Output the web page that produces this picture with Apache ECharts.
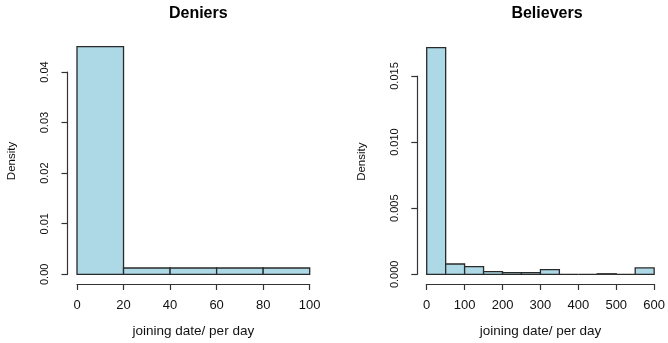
<!DOCTYPE html>
<html>
<head>
<meta charset="utf-8">
<script src="https://cdn.jsdelivr.net/npm/echarts@6/dist/echarts.min.js"></script>
<style>
  html, body { margin: 0; padding: 0; background: #fff; }
  #chart { width: 668px; height: 343px; }
</style>
</head>
<body>
<div id="chart"></div>
<script>
// Histogram bin edges and densities for the two groups
const panelTitles = ['Deniers', 'Believers'];
const xAxisTitle = 'joining date/ per day';
const yAxisTitle = 'Density';

const denierBreaks = [0, 20, 40, 60, 80, 100];
const denierDensity = [0.045, 0.00125, 0.00125, 0.00125, 0.00125];

const believerBreaks = [0, 50, 100, 150, 200, 250, 300, 350, 400, 450, 500, 550, 600];
const believerDensity = [0.01714, 0.00078, 0.00058, 0.0002, 0.00012, 0.00012, 0.00036, 0, 0, 0.00004, 0, 0.00048];

// x tick steps / y tick steps and decimals for each panel
const denierXTicks = { min: 0, max: 100, interval: 20 };
const denierYTicks = { min: 0, max: 0.04, interval: 0.01, digits: 2 };
const believerXTicks = { min: 0, max: 600, interval: 100 };
const believerYTicks = { min: 0, max: 0.015, interval: 0.005, digits: 3 };

function toBins(breaks, dens) {
  return dens.map((d, i) => [breaks[i], breaks[i + 1], d]);
}

const FONT = '"Liberation Sans", Arial, Helvetica, sans-serif';
const INK = '#111';
const LINE = '#333';

function renderBar(params, api) {
  const x0 = api.value(0), x1 = api.value(1), y = api.value(2);
  const p0 = api.coord([x0, y]);
  const p1 = api.coord([x1, 0]);
  return {
    type: 'rect',
    shape: { x: p0[0], y: p0[1], width: p1[0] - p0[0], height: p1[1] - p0[1] },
    style: { fill: '#ADD8E6', stroke: '#2a2a2a', lineWidth: 1.3 }
  };
}

function xAxisFor(idx, t) {
  return {
    type: 'value', gridIndex: idx,
    min: t.min, max: t.max, interval: t.interval,
    offset: 9.7,
    splitLine: { show: false },
    axisLine: { show: true, onZero: false, lineStyle: { color: LINE, width: 1.2 } },
    axisTick: { show: true, length: 6, lineStyle: { color: LINE, width: 1.2 } },
    axisLabel: { color: INK, fontSize: 13, fontFamily: FONT, margin: 15, showMinLabel: true, showMaxLabel: true },
    name: xAxisTitle, nameLocation: 'middle', nameGap: 40,
    nameTextStyle: { color: INK, fontSize: 13.5, fontFamily: FONT }
  };
}

function yAxisFor(idx, t, off) {
  return {
    type: 'value', gridIndex: idx,
    min: t.min, max: t.max, interval: t.interval,
    offset: off,
    splitLine: { show: false },
    axisLine: { show: true, onZero: false, lineStyle: { color: LINE, width: 1.2 } },
    axisTick: { show: true, length: 6, lineStyle: { color: LINE, width: 1.2 } },
    axisLabel: {
      color: INK, fontSize: 11, fontFamily: FONT, rotate: 90, margin: 17,
      showMinLabel: true, showMaxLabel: true,
      formatter: v => Number(v).toFixed(t.digits)
    }
  };
}

const chart = echarts.init(document.getElementById('chart'), null, { renderer: 'canvas' });

chart.setOption({
  animation: false,
  backgroundColor: '#fff',
  title: [
    { text: panelTitles[0], left: 193.3, top: 1, textAlign: 'center',
      textStyle: { color: '#000', fontSize: 16, fontWeight: 'bold', fontFamily: FONT } },
    { text: panelTitles[1], left: 542, top: 1, textAlign: 'center',
      textStyle: { color: '#000', fontSize: 16, fontWeight: 'bold', fontFamily: FONT } }
  ],
  grid: [
    { left: 77, top: 72, width: 232.7, height: 203.3 },
    { left: 426.7, top: 76, width: 230.6, height: 199.5 }
  ],
  xAxis: [xAxisFor(0, denierXTicks), xAxisFor(1, believerXTicks)],
  yAxis: [yAxisFor(0, denierYTicks, 9.5), yAxisFor(1, believerYTicks, 9.4)],
  graphic: [
    { type: 'text', x: 12, y: 161, rotation: Math.PI / 2,
      style: { text: yAxisTitle, fill: INK, font: '11.5px ' + FONT, align: 'center', verticalAlign: 'middle' } },
    { type: 'text', x: 362.3, y: 161.7, rotation: Math.PI / 2,
      style: { text: yAxisTitle, fill: INK, font: '11.5px ' + FONT, align: 'center', verticalAlign: 'middle' } }
  ],
  series: [
    { type: 'custom', xAxisIndex: 0, yAxisIndex: 0, clip: false,
      encode: { x: [0, 1], y: 2 }, renderItem: renderBar,
      data: toBins(denierBreaks, denierDensity) },
    { type: 'custom', xAxisIndex: 1, yAxisIndex: 1, clip: false,
      encode: { x: [0, 1], y: 2 }, renderItem: renderBar,
      data: toBins(believerBreaks, believerDensity) }
  ]
});
</script>
</body>
</html>
